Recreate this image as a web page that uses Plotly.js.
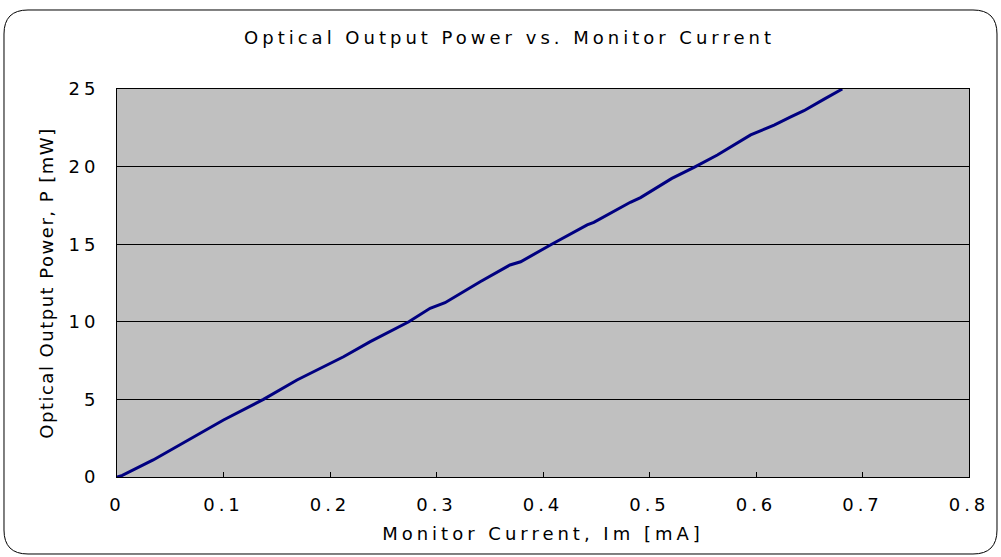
<!DOCTYPE html>
<html>
<head>
<meta charset="utf-8">
<script src="https://cdn.plot.ly/plotly-3.0.1.min.js"></script>
<style>
html, body { margin: 0; padding: 0; background: #ffffff; }
#chart { width: 1001px; height: 557px; }
.main-svg text { letter-spacing: 4px; }
.main-svg .ytitle { letter-spacing: 1.5px; }
</style>
</head>
<body>
<div id="chart"></div>
<script>
// Monitor current Im [mA]
const monitorCurrent = [0, 0.005, 0.034, 0.067, 0.1, 0.1375, 0.169, 0.2127, 0.2378, 0.274, 0.294, 0.308, 0.341, 0.369, 0.379, 0.4086, 0.4415, 0.4477, 0.482, 0.4916, 0.521, 0.5418, 0.5637, 0.595, 0.617, 0.6326, 0.645, 0.664, 0.681];
// Optical output power P [mW]
const outputPower = [0, 0.1, 1.10, 2.38, 3.67, 5.0, 6.25, 7.75, 8.72, 10.0, 10.87, 11.23, 12.58, 13.66, 13.87, 15.01, 16.24, 16.41, 17.7, 18.0, 19.24, 19.95, 20.75, 22.04, 22.68, 23.2, 23.6, 24.35, 25.0];
const xTickVals = [0, 0.1, 0.2, 0.3, 0.4, 0.5, 0.6, 0.7, 0.8];
const xTickText = ['0', '0.1', '0.2', '0.3', '0.4', '0.5', '0.6', '0.7', '0.8'];
const yTickVals = [0, 5, 10, 15, 20, 25];
const yTickText = ['0', '5', '10', '15', '20', '25'];

const W = 1001, H = 557;
const M = {l: 117, r: 32, t: 89, b: 80};
const pw = W - M.l - M.r, ph = H - M.t - M.b;
function P(px, py) { return ((px - M.l) / pw).toFixed(5) + ',' + ((H - M.b - py) / ph).toFixed(5); }
const L = 4, R = 997, T = 10, B = 554, rad = 24;
const borderPath = 'M' + P(L + rad, T) + ' L' + P(R - rad, T) + ' Q' + P(R, T) + ' ' + P(R, T + rad) +
  ' L' + P(R, B - rad) + ' Q' + P(R, B) + ' ' + P(R - rad, B) +
  ' L' + P(L + rad, B) + ' Q' + P(L, B) + ' ' + P(L, B - rad) +
  ' L' + P(L, T + rad) + ' Q' + P(L, T) + ' ' + P(L + rad, T) + ' Z';

const fam = 'DejaVu Sans, Arial, sans-serif';
const font = {family: fam, size: 18, color: '#000000'};

const data = [{
  x: monitorCurrent,
  y: outputPower,
  type: 'scatter',
  mode: 'lines',
  line: {color: '#000080', width: 3},
  hoverinfo: 'skip',
  showlegend: false,
  cliponaxis: true
}];

const layout = {
  width: W, height: H,
  margin: M,
  paper_bgcolor: '#ffffff',
  plot_bgcolor: '#c0c0c0',
  font: font,
  title: {text: 'Optical Output Power vs. Monitor Current', font: {family: fam, size: 18, color: '#000'}, x: 0.509, xanchor: 'center', y: 0.932, yanchor: 'middle', xref: 'container', yref: 'container'},
  xaxis: {
    range: [0, 0.8],
    tickmode: 'array', tickvals: xTickVals, ticktext: xTickText,
    ticks: 'inside', ticklen: 5, tickwidth: 1, tickcolor: '#000',
    ticklabelstandoff: 11,
    showgrid: false, zeroline: false,
    showline: true, linecolor: '#000', linewidth: 1, mirror: true,
    tickfont: {family: fam, size: 18, color: '#000'},
    title: {text: 'Monitor Current, Im [mA]', font: {family: fam, size: 18, color: '#000'}, standoff: 13},
    fixedrange: true
  },
  yaxis: {
    range: [0, 25],
    tickmode: 'array', tickvals: yTickVals, ticktext: yTickText,
    ticks: '',
    ticklabelstandoff: 13,
    showgrid: true, gridcolor: '#000', gridwidth: 1, zeroline: false,
    showline: true, linecolor: '#000', linewidth: 1, mirror: true,
    tickfont: {family: fam, size: 18, color: '#000'},
    title: {text: 'Optical Output Power, P [mW]', font: {family: fam, size: 18, color: '#000'}, standoff: 18},
    fixedrange: true
  },
  shapes: [{
    type: 'path', xref: 'paper', yref: 'paper', path: borderPath,
    line: {color: '#000', width: 1}, fillcolor: 'rgba(0,0,0,0)', layer: 'above'
  }]
};

Plotly.newPlot('chart', data, layout, {displayModeBar: false, staticPlot: true});
</script>
</body>
</html>
